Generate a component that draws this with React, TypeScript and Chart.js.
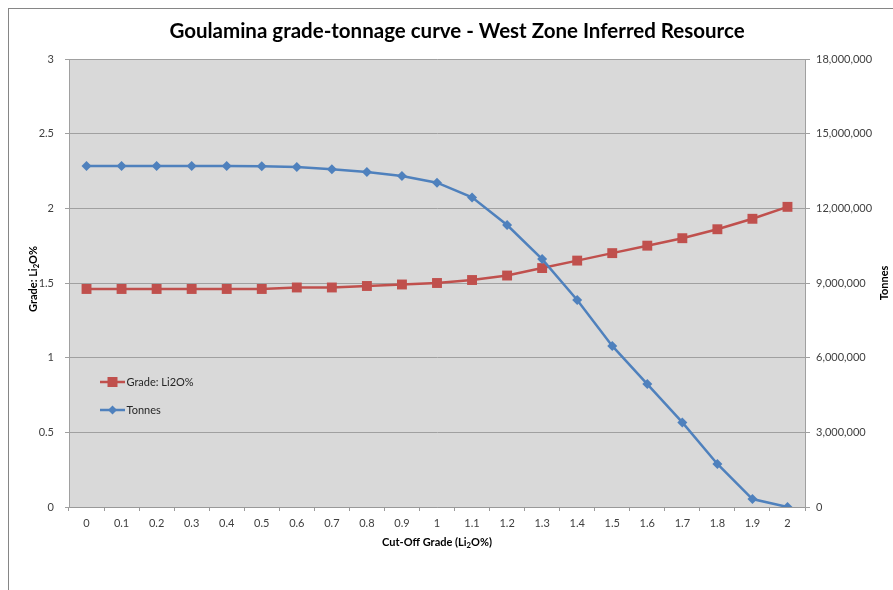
import React, { useEffect, useRef } from "react";
import { Chart, registerables } from "chart.js";

Chart.register(...registerables);

const categories = ["0", "0.1", "0.2", "0.3", "0.4", "0.5", "0.6", "0.7", "0.8", "0.9", "1", "1.1", "1.2", "1.3", "1.4", "1.5", "1.6", "1.7", "1.8", "1.9", "2"];
const gradeValues = [1.46, 1.46, 1.46, 1.46, 1.46, 1.46, 1.47, 1.47, 1.48, 1.49, 1.5, 1.52, 1.55, 1.6, 1.65, 1.7, 1.75, 1.8, 1.86, 1.93, 2.01];
const tonnesValues = [13700000, 13700000, 13700000, 13700000, 13700000, 13690000, 13660000, 13570000, 13460000, 13300000, 13030000, 12440000, 11330000, 9960000, 8320000, 6470000, 4940000, 3400000, 1730000, 320000, 0];

const TITLE = "Goulamina grade-tonnage curve - West Zone Inferred Resource";
const RED = "#c0504d";
const BLUE = "#4f81bd";
const FONT = "Lato, 'Open Sans', sans-serif";

type Seg = { t: string; sub?: boolean };

function drawSegs(ctx: CanvasRenderingContext2D, segs: Seg[], x: number, y: number, size: number) {
  const widths = segs.map((s) => {
    ctx.font = `bold ${s.sub ? size * 0.7 : size}px ${FONT}`;
    return ctx.measureText(s.t).width;
  });
  const total = widths.reduce((a, b) => a + b, 0);
  let cx = x - total / 2;
  segs.forEach((s, i) => {
    ctx.font = `bold ${s.sub ? size * 0.7 : size}px ${FONT}`;
    ctx.fillText(s.t, cx, s.sub ? y + size * 0.3 : y);
    cx += widths[i];
  });
}

const decorPlugin = {
  id: "decor",
  beforeDraw(chart: any) {
    const { ctx, chartArea } = chart;
    ctx.save();
    ctx.fillStyle = "#d9d9d9";
    ctx.fillRect(chartArea.left, chartArea.top, chartArea.right - chartArea.left, chartArea.bottom - chartArea.top);
    ctx.restore();
  },
  afterDatasetsDraw(chart: any) {
    const ctx: CanvasRenderingContext2D = chart.ctx;
    ctx.save();
    const items = [
      { label: "Grade: Li2O%", color: RED, y: 373, shape: "rect" },
      { label: "Tonnes", color: BLUE, y: 401, shape: "diamond" },
    ];
    items.forEach((it) => {
      ctx.strokeStyle = it.color;
      ctx.lineWidth = 2.5;
      ctx.beginPath();
      ctx.moveTo(91, it.y);
      ctx.lineTo(116, it.y);
      ctx.stroke();
      ctx.fillStyle = it.color;
      ctx.beginPath();
      if (it.shape === "rect") {
        ctx.rect(103.5 - 5, it.y - 5, 10, 10);
      } else {
        ctx.moveTo(103.5, it.y - 4.5);
        ctx.lineTo(108, it.y);
        ctx.lineTo(103.5, it.y + 4.5);
        ctx.lineTo(99, it.y);
        ctx.closePath();
      }
      ctx.fill();
      ctx.fillStyle = "#262626";
      ctx.font = `11px ${FONT}`;
      ctx.textBaseline = "middle";
      ctx.textAlign = "left";
      ctx.fillText(it.label, 117.5, it.y);
    });
    ctx.restore();
  },
  afterDraw(chart: any) {
    const ctx: CanvasRenderingContext2D = chart.ctx;
    ctx.save();
    ctx.fillStyle = "#000";
    ctx.textBaseline = "middle";
    ctx.textAlign = "left";
    ctx.font = `bold 20.5px ${FONT}`;
    const tw = ctx.measureText(TITLE).width;
    ctx.fillText(TITLE, 448 - tw / 2, 22.5);
    drawSegs(ctx, [{ t: "Cut-Off Grade (Li" }, { t: "2", sub: true }, { t: "O%)" }], 428, 533, 11);
    ctx.save();
    ctx.translate(24, 270);
    ctx.rotate(-Math.PI / 2);
    drawSegs(ctx, [{ t: "Grade: Li" }, { t: "2", sub: true }, { t: "O%" }], 0, 0, 11);
    ctx.restore();
    ctx.save();
    ctx.translate(875, 274);
    ctx.rotate(-Math.PI / 2);
    ctx.font = `bold 11px ${FONT}`;
    ctx.textAlign = "center";
    ctx.fillText("Tonnes", 0, 0);
    ctx.restore();
    ctx.restore();
  },
};

export default function App() {
  const ref = useRef<HTMLCanvasElement>(null);
  useEffect(() => {
    if (!ref.current) return;
    const tickFont = { family: FONT, size: 11 };
    const chart = new Chart(ref.current, {
      type: "line",
      data: {
        labels: categories,
        datasets: [
          {
            label: "Grade: Li2O%",
            data: gradeValues,
            yAxisID: "y",
            borderColor: RED,
            backgroundColor: RED,
            borderWidth: 2.5,
            pointStyle: "rect",
            pointRadius: 7,
            pointBorderWidth: 0,
            tension: 0,
            order: 1,
          },
          {
            label: "Tonnes",
            data: tonnesValues,
            yAxisID: "y1",
            borderColor: BLUE,
            backgroundColor: BLUE,
            borderWidth: 2.5,
            pointStyle: "rectRot",
            pointRadius: 5,
            pointBorderWidth: 0,
            tension: 0,
            order: 0,
          },
        ],
      },
      options: {
        animation: false,
        responsive: false,
        layout: { padding: { top: 50, left: 0, right: 0, bottom: 0 } },
        plugins: { legend: { display: false }, tooltip: { enabled: false }, title: { display: false } },
        scales: {
          x: {
            offset: true,
            grid: { display: true, offset: true, drawOnChartArea: false, drawTicks: true, tickLength: 4, color: "#999999" },
            border: { display: true, color: "#999999" },
            ticks: { color: "#404040", font: tickFont, padding: 6, maxRotation: 0, autoSkip: false },
            afterFit: (s: any) => { s.height = 83; },
          },
          y: {
            position: "left",
            min: 0,
            max: 3,
            grid: { color: "#a0a0a0", tickLength: 4, lineWidth: 1 },
            border: { display: true, color: "#a0a0a0" },
            ticks: { stepSize: 0.5, color: "#404040", font: tickFont, padding: 11, callback: (v: any) => String(Number(v)) },
            afterFit: (s: any) => { s.width = 60; },
          },
          y1: {
            position: "right",
            min: 0,
            max: 18000000,
            grid: { drawOnChartArea: false, color: "#a0a0a0", tickLength: 5 },
            border: { display: true, color: "#a0a0a0" },
            ticks: {
              stepSize: 3000000,
              color: "#404040",
              font: tickFont,
              padding: 6,
              callback: (v: any) => Number(v).toLocaleString("en-US"),
            },
            afterFit: (s: any) => { s.width = 88; },
          },
        },
      },
      plugins: [decorPlugin],
    });
    return () => chart.destroy();
  }, []);
  return (
    <div style={{ position: "fixed", left: 8, top: 8, width: 884, height: 581, borderLeft: "1px solid #868686", borderTop: "1px solid #868686", background: "#fff" }}>
      <canvas ref={ref} width={884} height={581} style={{ display: "block" }} />
    </div>
  );
}
